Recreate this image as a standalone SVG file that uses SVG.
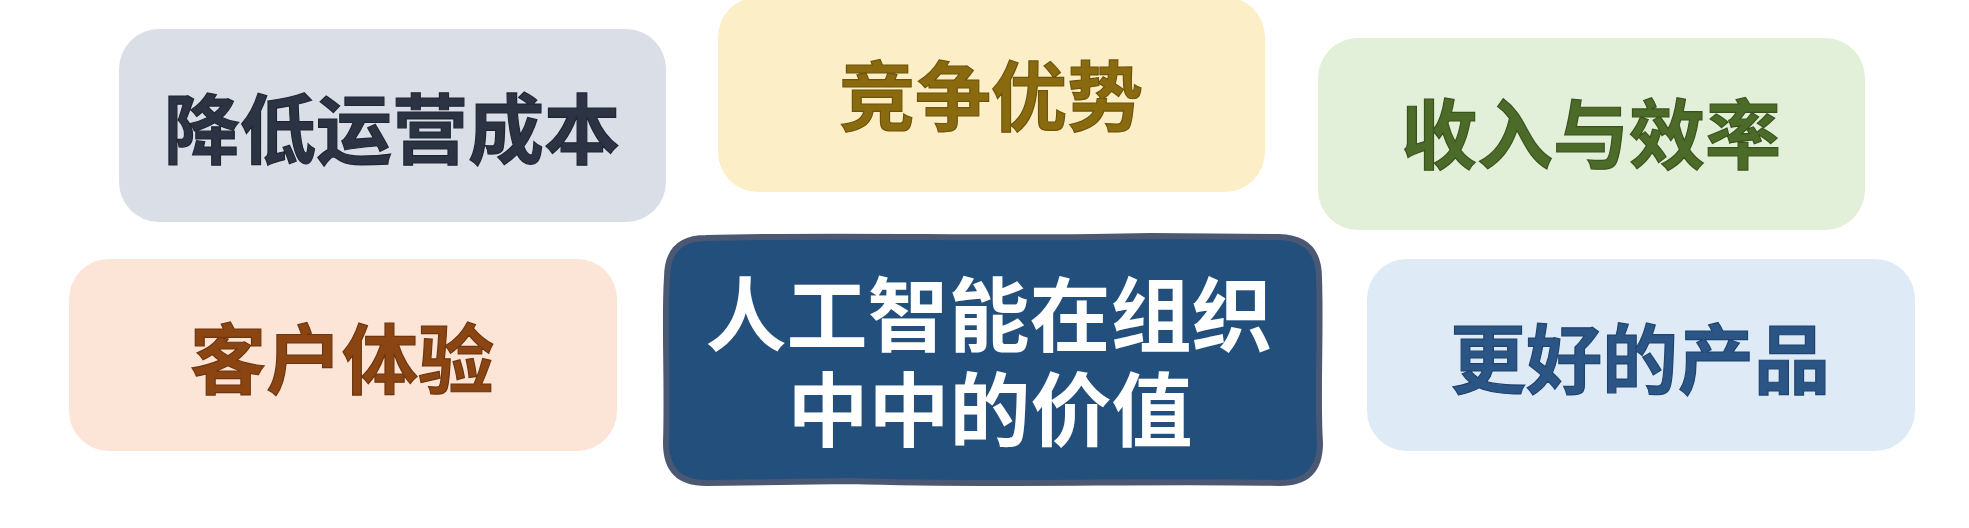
<svg xmlns="http://www.w3.org/2000/svg" width="1969" height="528" viewBox="0 0 1969 528">
  <style>
    text { font-family: "Noto Sans CJK SC", "Noto Sans CJK JP", sans-serif; font-weight: 700; text-anchor: middle; dominant-baseline: central; }
    .lbl { font-size: 76px; stroke-width: 1.2px; }
    .ctr { font-size: 81px; fill: #ffffff; }
  </style>
  <rect width="1969" height="528" fill="#ffffff"/>
  <g id="node-cost">
    <rect x="119" y="29" width="547" height="193" rx="40" fill="#d9dee7"/>
    <text class="lbl" x="392" y="125" fill="#2c3444" stroke="#1f2633">降低运营成本</text>
  </g>
  <g id="node-competitive">
    <rect x="718" y="-3" width="547" height="195" rx="40" fill="#fcefc8"/>
    <text class="lbl" x="991" y="92" fill="#8a6a0e" stroke="#6e540a">竞争优势</text>
  </g>
  <g id="node-revenue">
    <rect x="1318" y="38" width="547" height="192" rx="40" fill="#e2efd9"/>
    <text class="lbl" x="1591" y="130" fill="#4c6a28" stroke="#3a531d">收入与效率</text>
  </g>
  <g id="node-customer">
    <rect x="69" y="259" width="548" height="192" rx="40" fill="#fce4d6"/>
    <text class="lbl" x="342" y="355" fill="#8b4513" stroke="#6e360e">客户体验</text>
  </g>
  <g id="node-product">
    <rect x="1367" y="259" width="548" height="192" rx="40" fill="#deebf7"/>
    <text class="lbl" x="1640" y="355" fill="#2a5585" stroke="#1f4470">更好的产品</text>
  </g>
  <g id="node-center">
    <path d="M706,238 C850,234 1000,240 1150,236 L1279,237 Q1319,238 1319,278 C1321,330 1317,400 1320,443 Q1320,483 1280,483 C1150,480 1000,486 850,481 L706,483 Q666,483 666,443 C668,380 664,320 667,278 Q667,238 706,238 Z" fill="#224f7b" stroke="#4a5873" stroke-width="6"/>
    <text class="ctr" x="989" y="309"><tspan x="989" y="309">人工智能在组织</tspan><tspan x="990" y="404">中中的价值</tspan></text>
  </g>
  <g id="connectors"></g>
</svg>
